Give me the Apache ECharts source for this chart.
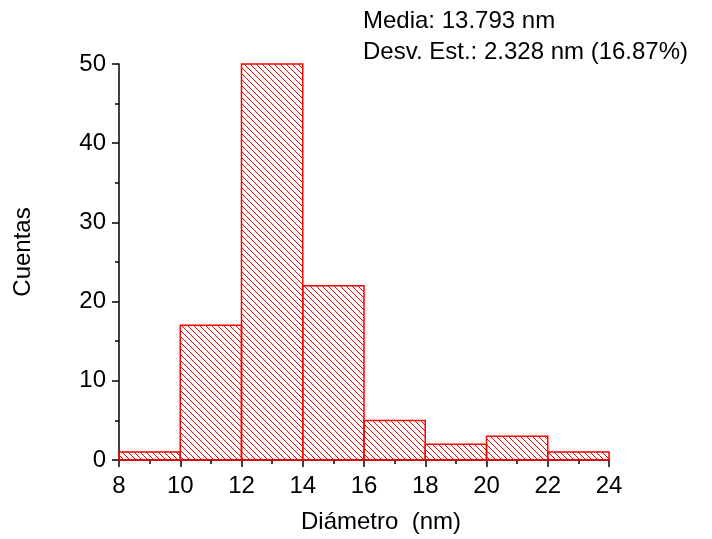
<!DOCTYPE html>
<html>
<head>
<meta charset="utf-8">
<script src="https://cdn.jsdelivr.net/npm/echarts@6/dist/echarts.min.js"></script>
<style>
  html, body { margin: 0; padding: 0; background: #fff; }
  #chart { width: 712px; height: 539px; }
</style>
</head>
<body>
<div id="chart"></div>
<script>
// Histogram bins (nm) and counts
const binStart = [8, 10, 12, 14, 16, 18, 20, 22];
const binEnd   = [10, 12, 14, 16, 18, 20, 22, 24];
const counts   = [1, 17, 50, 22, 5, 2, 3, 1];

const statLines = ['Media: 13.793 nm', 'Desv. Est.: 2.328 nm (16.87%)'];
const xTitle = 'Diámetro  (nm)';
const yTitle = 'Cuentas';

const FONT = '"Liberation Sans", Arial, sans-serif';
const RED = '#ff0000';

// Diagonal hatch tile ("\" direction)
function makeHatch(size) {
  const c = document.createElement('canvas');
  c.width = size; c.height = size;
  const g = c.getContext('2d');
  g.strokeStyle = RED;
  g.lineWidth = 1;
  g.beginPath();
  g.moveTo(-1, -1); g.lineTo(size + 1, size + 1);
  g.moveTo(-1, size - 1); g.lineTo(1, size + 1);
  g.moveTo(size - 1, -1); g.lineTo(size + 1, 1);
  g.stroke();
  return c;
}
const hatch = { image: makeHatch(6), repeat: 'repeat' };

const data = binStart.map((s, i) => [s, binEnd[i], counts[i]]);

const chart = echarts.init(document.getElementById('chart'), null, { renderer: 'canvas' });

chart.setOption({
  animation: false,
  backgroundColor: '#fff',
  grid: { left: 119, right: 103, top: 64, bottom: 79 },
  xAxis: {
    type: 'value',
    min: 8, max: 24, interval: 2,
    axisLine: { show: true, onZero: false, lineStyle: { color: '#000', width: 1.5 } },
    axisTick: { show: true, inside: false, length: 7, lineStyle: { color: '#000', width: 1.5 } },
    minorTick: { show: true, splitNumber: 2, length: 4, lineStyle: { color: '#000', width: 1.5 } },
    axisLabel: { color: '#000', fontSize: 24, fontFamily: FONT, margin: 14 },
    splitLine: { show: false },
    minorSplitLine: { show: false }
  },
  yAxis: {
    type: 'value',
    min: 0, max: 50, interval: 10,
    axisLine: { show: true, lineStyle: { color: '#000', width: 1.5 } },
    axisTick: { show: true, inside: false, length: 7, lineStyle: { color: '#000', width: 1.5 } },
    minorTick: { show: true, splitNumber: 2, length: 4, lineStyle: { color: '#000', width: 1.5 } },
    axisLabel: { color: '#000', fontSize: 24, fontFamily: FONT, margin: 13 },
    splitLine: { show: false },
    minorSplitLine: { show: false }
  },
  series: [{
    type: 'custom',
    data: data,
    encode: { x: [0, 1], y: 2 },
    renderItem: function (params, api) {
      const x0 = api.value(0), x1 = api.value(1), y = api.value(2);
      const pTop = api.coord([x0, y]);
      const pBot = api.coord([x1, 0]);
      return {
        type: 'rect',
        shape: { x: pTop[0], y: pTop[1], width: pBot[0] - pTop[0], height: pBot[1] - pTop[1] },
        style: { fill: hatch, stroke: RED, lineWidth: 1.5 }
      };
    }
  }],
  graphic: [
    {
      type: 'text', left: 363, top: 9,
      style: { text: statLines[0], fontSize: 24, fontFamily: FONT, fill: '#000' }
    },
    {
      type: 'text', left: 363, top: 40,
      style: { text: statLines[1], fontSize: 24, fontFamily: FONT, fill: '#000' }
    },
    {
      type: 'text', x: 381, y: 522,
      style: { text: xTitle, fontSize: 24, fontFamily: FONT, fill: '#000', align: 'center', verticalAlign: 'middle' }
    },
    {
      type: 'text', x: 23, y: 252, rotation: Math.PI / 2,
      style: { text: yTitle, fontSize: 24, fontFamily: FONT, fill: '#000', align: 'center', verticalAlign: 'middle' }
    }
  ]
});
</script>
</body>
</html>
